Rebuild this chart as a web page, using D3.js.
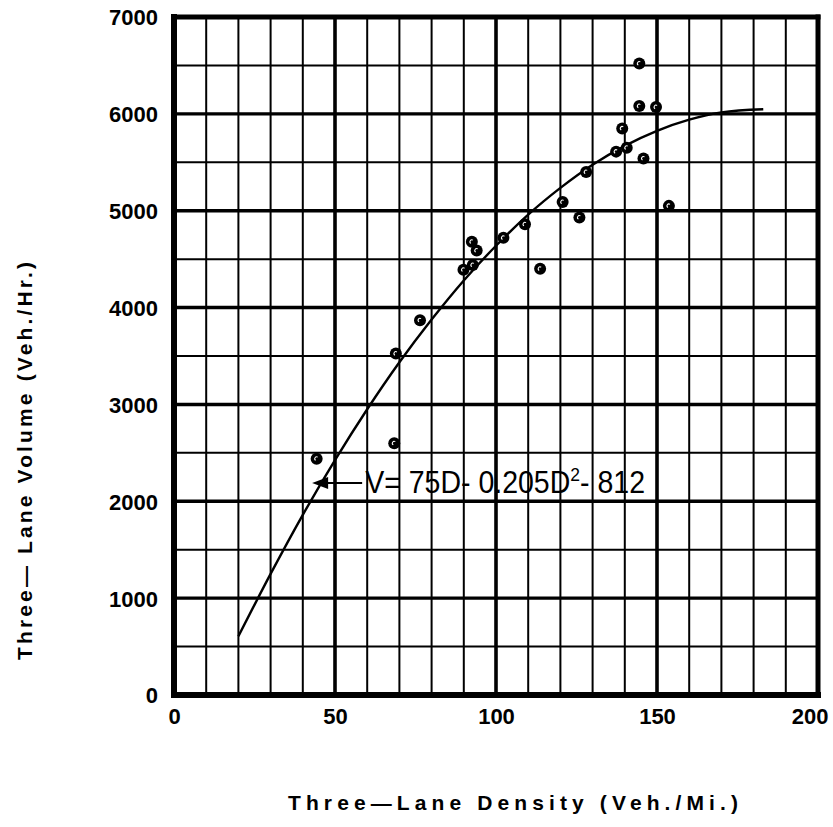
<!DOCTYPE html>
<html>
<head>
<meta charset="utf-8">
<script src="https://cdn.jsdelivr.net/npm/d3@7"></script>
<style>
  html, body { margin: 0; padding: 0; background: #fff; }
  svg { display: block; }
</style>
</head>
<body>
<svg id="chart" width="833" height="827"></svg>
<script>
// ---- data ----
const xTickValues = [0, 50, 100, 150, 200];
const yTickValues = [0, 1000, 2000, 3000, 4000, 5000, 6000, 7000];
const xTitle = "Three\u2014Lane Density  (Veh./Mi.)";
const yTitle = "Three\u2014 Lane Volume  (Veh./Hr.)";

// observed points (density veh/mi, volume veh/hr)
const densities = [44.3, 68.4, 68.9, 76.4, 89.9, 92.8, 92.5, 94.0, 102.3, 109.0, 113.7,
                   120.7, 125.9, 128.0, 137.3, 139.2, 140.6, 144.5, 144.5, 149.7, 145.8, 153.7];
const volumes   = [2440, 2600, 3525, 3870, 4390, 4440, 4680, 4590, 4720, 4860, 4400,
                   5090, 4930, 5400, 5610, 5850, 5650, 6520, 6080, 6070, 5540, 5050];

// fitted curve
const curveD = [20, 30, 40, 50, 60, 70, 80, 90, 100, 110, 120, 130, 140, 150, 160, 170, 183];
const curveV = [606, 1250, 1860, 2425, 2950, 3435, 3876, 4280, 4638, 4960, 5236, 5475, 5670, 5825, 5940, 6015, 6048];

// ---- drawing ----
const svg = d3.select("#chart");
const x = d3.scaleLinear().domain([0, 200]).range([174, 818]);
const y = d3.scaleLinear().domain([0, 7000]).range([695, 17]);
const FONT = "'Liberation Sans', Arial, sans-serif";

const grid = svg.append("g");
// vertical grid lines
x.ticks(20).forEach(v => {
  if (v === 0 || v === 200) return;
  const major = v % 50 === 0;
  grid.append("line")
    .attr("x1", x(v)).attr("x2", x(v))
    .attr("y1", y(7000)).attr("y2", y(0))
    .attr("stroke", "#000").attr("stroke-width", major ? 3.6 : 2);
});
// horizontal grid lines
y.ticks(14).forEach(v => {
  if (v === 0 || v === 7000) return;
  const major = v % 1000 === 0;
  grid.append("line")
    .attr("x1", x(0)).attr("x2", x(200))
    .attr("y1", y(v)).attr("y2", y(v))
    .attr("stroke", "#000").attr("stroke-width", major ? 3.4 : 2);
});

// frame
const frame = svg.append("g").attr("stroke", "#000").attr("stroke-linecap", "square");
frame.append("line").attr("x1", x(0)).attr("x2", x(0)).attr("y1", y(7000)).attr("y2", y(0)).attr("stroke-width", 6);
frame.append("line").attr("x1", x(0)).attr("x2", x(200)).attr("y1", y(0)).attr("y2", y(0)).attr("stroke-width", 6);
frame.append("line").attr("x1", x(0)).attr("x2", x(200)).attr("y1", y(7000)).attr("y2", y(7000)).attr("stroke-width", 5);
frame.append("line").attr("x1", x(200)).attr("x2", x(200)).attr("y1", y(7000)).attr("y2", y(0)).attr("stroke-width", 5);

// axes (labels only)
const xAxis = d3.axisBottom(x).tickValues(xTickValues).tickSize(0).tickPadding(0).tickFormat(d3.format("d"));
const gx = svg.append("g").attr("transform", `translate(0, ${y(0) + 12})`).call(xAxis);
gx.select(".domain").remove();
gx.selectAll("text")
  .attr("font-family", FONT)
  .attr("font-size", 22).attr("font-weight", "bold").attr("fill", "#000")
  .attr("dy", "0.75em")
  .attr("text-anchor", d => d === 200 ? "end" : "middle")
  .attr("dx", d => d === 200 ? 10 : 0);

const yAxis = d3.axisLeft(y).tickValues(yTickValues).tickSize(0).tickPadding(0).tickFormat(d3.format("d"));
const gy = svg.append("g").attr("transform", `translate(${x(0) - 16}, 0)`).call(yAxis);
gy.select(".domain").remove();
gy.selectAll("text")
  .attr("font-family", FONT)
  .attr("font-size", 22).attr("font-weight", "bold").attr("fill", "#000")
  .attr("dy", "0.36em");

// fitted curve
const line = d3.line().x((d, i) => x(curveD[i])).y((d, i) => y(curveV[i])).curve(d3.curveMonotoneX);
svg.append("path")
  .attr("d", line(curveD))
  .attr("fill", "none").attr("stroke", "#000").attr("stroke-width", 2.4);

// points
const pts = densities.map((d, i) => ({ d, v: volumes[i] }));
const pg = svg.append("g");
pg.selectAll("circle.outer").data(pts).join("circle")
  .attr("class", "outer")
  .attr("cx", p => x(p.d)).attr("cy", p => y(p.v)).attr("r", 6)
  .attr("fill", "#000");
pg.selectAll("path.inner").data(pts).join("path")
  .attr("class", "inner")
  .attr("transform", p => `translate(${x(p.d)},${y(p.v)})`)
  .attr("d", d3.arc()({ innerRadius: 1.4, outerRadius: 2.4, startAngle: -2.6, endAngle: 0.6 }))
  .attr("fill", "#fff");

// annotation arrow + equation
const tipX = x(42.9), tipY = y(2188);
svg.append("path")
  .attr("d", `M${tipX},${tipY} L${tipX + 16},${tipY - 6} L${tipX + 16},${tipY + 6} Z`)
  .attr("fill", "#000");
svg.append("line")
  .attr("x1", tipX + 14).attr("x2", tipX + 50)
  .attr("y1", tipY).attr("y2", tipY)
  .attr("stroke", "#000").attr("stroke-width", 2);

const eqG = svg.append("g")
  .attr("transform", `translate(${tipX + 53}, ${tipY + 10}) scale(0.92, 1)`);
const eq = eqG.append("text")
  .attr("x", 0).attr("y", 0)
  .attr("font-family", FONT)
  .attr("font-size", 31).attr("fill", "#000");
eq.append("tspan").text("V= 75D- 0.205D");
eq.append("tspan").attr("font-size", 19).attr("dy", -12).text("2");
eq.append("tspan").attr("dy", 12).text("- 812");

// axis titles
svg.append("text")
  .attr("x", 513).attr("y", 810)
  .attr("text-anchor", "middle")
  .attr("font-family", FONT)
  .attr("font-size", 21).attr("font-weight", "bold").attr("fill", "#000")
  .attr("textLength", 450).attr("lengthAdjust", "spacing")
  .text(xTitle);

svg.append("text")
  .attr("transform", "translate(32, 461) rotate(-90)")
  .attr("text-anchor", "middle")
  .attr("font-family", FONT)
  .attr("font-size", 21).attr("font-weight", "bold").attr("fill", "#000")
  .attr("textLength", 398).attr("lengthAdjust", "spacing")
  .text(yTitle);
</script>
</body>
</html>
